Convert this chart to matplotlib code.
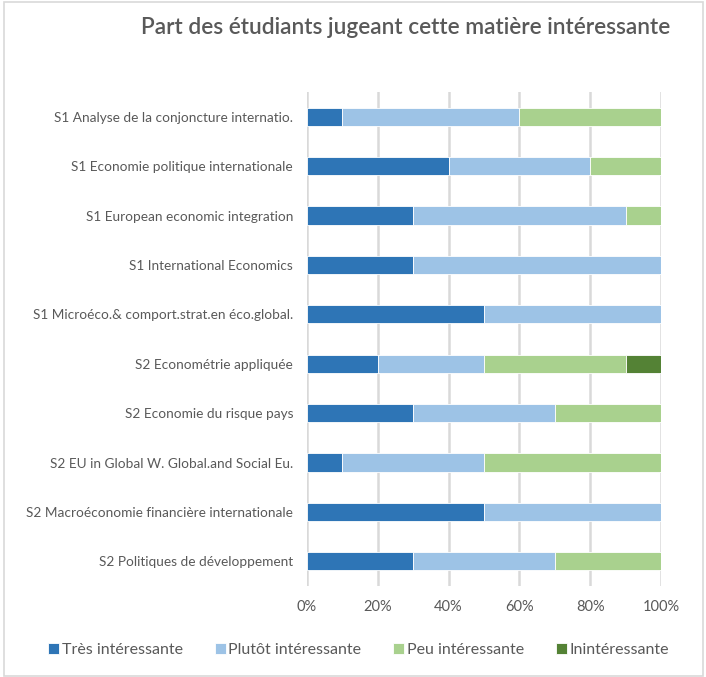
import numpy as np
import matplotlib.pyplot as plt
from matplotlib.patches import Rectangle

matieres = [
    "S1 Analyse de la conjoncture internatio.",
    "S1 Economie politique internationale",
    "S1 European economic integration",
    "S1 International Economics",
    "S1 Microéco.& comport.strat.en éco.global.",
    "S2 Econométrie appliquée",
    "S2 Economie du risque pays",
    "S2 EU in Global W. Global.and Social Eu.",
    "S2 Macroéconomie financière internationale",
    "S2 Politiques de développement",
]
tres = [10, 40, 30, 30, 50, 20, 30, 10, 50, 30]
plutot = [50, 40, 60, 70, 50, 30, 40, 40, 50, 40]
peu = [40, 20, 10, 0, 0, 40, 30, 50, 0, 30]
inint = [0, 0, 0, 0, 0, 10, 0, 0, 0, 0]

series = ["Très intéressante", "Plutôt intéressante", "Peu intéressante", "Inintéressante"]
couleurs = ["#2E75B6", "#9DC3E6", "#A9D18E", "#548235"]
ticks = [0, 20, 40, 60, 80, 100]

txt = "#595959"
police = ["Lato", "DejaVu Sans"]

fig = plt.figure(figsize=(7.06, 6.77), dpi=100)
ax = fig.add_axes([0.4348, 0.1344, 0.5014, 0.7297])

y = np.arange(len(matieres))
left = np.zeros(len(matieres))
for vals, nom, c in zip([tres, plutot, peu, inint], series, couleurs):
    v = np.array(vals, dtype=float)
    ax.barh(y, v, left=left, height=0.37, color=c, edgecolor="white",
            linewidth=0.6, label=nom, zorder=3)
    left += v

ax.set_xlim(0, 100)
ax.set_ylim(len(matieres) - 0.5, -0.5)
ax.set_yticks(y)
ax.set_yticklabels(matieres, family=police, fontsize=9.8, color=txt)
ax.set_xticks(ticks)
ax.set_xticklabels([f"{t}%" for t in ticks], family=police, fontsize=10.5, color=txt)
ax.tick_params(length=0, pad=10)
ax.tick_params(axis="x", pad=10)
ax.grid(axis="x", color="#D9D9D9", linewidth=1.8, zorder=0)
for s in ax.spines.values():
    s.set_visible(False)

fig.text(0.575, 0.959, "Part des étudiants jugeant cette matière intéressante",
         ha="center", va="center", fontsize=16.3, fontweight="semibold",
         color=txt, family=police)

leg = fig.legend(loc="center", bbox_to_anchor=(0.508, 0.040), ncol=4, frameon=False,
                 handlelength=0.7, handleheight=0.7, handletextpad=0.15,
                 columnspacing=2.0, prop={"family": police, "size": 11.5})
for t in leg.get_texts():
    t.set_color(txt)

fig.patches.append(Rectangle((0.005, 0.002), 0.991, 0.995, transform=fig.transFigure,
                             fill=False, edgecolor="#D9D9D9", linewidth=1.2))

fig.savefig("out.png", dpi=100)
